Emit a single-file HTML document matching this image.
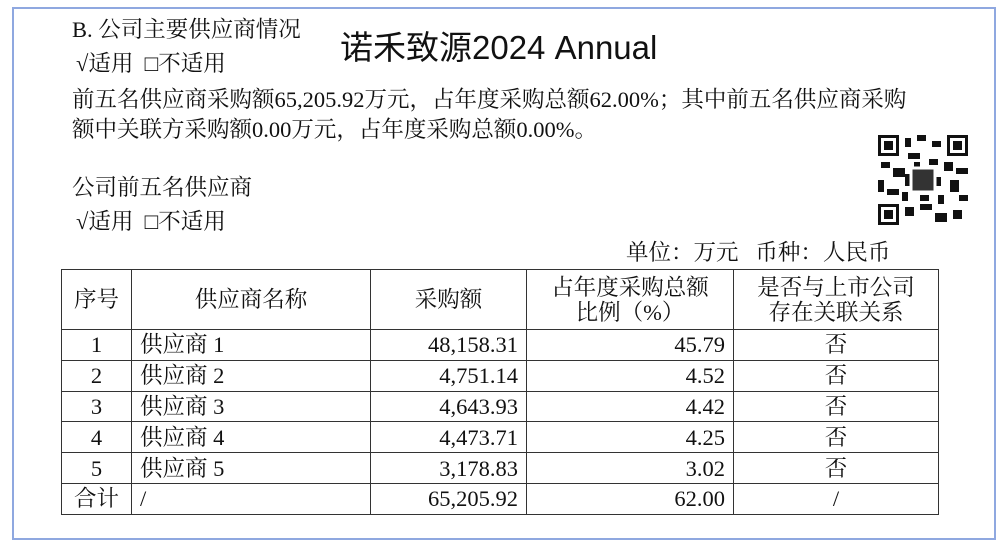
<!DOCTYPE html>
<html><head><meta charset="utf-8"><style>
body{margin:0;width:1000px;height:545px;background:#fff;position:relative;overflow:hidden;font-family:"Liberation Serif","Noto Serif CJK SC",serif;color:#111}
.frame{position:absolute;left:12px;top:7px;width:984px;height:533px;border:2px solid #8fa8e0;box-sizing:border-box}
.t{position:absolute;white-space:nowrap;font-size:22.5px;line-height:26px}
.big{position:absolute;left:340px;top:29px;font-family:"Liberation Sans","Noto Sans CJK SC",sans-serif;font-size:33px;line-height:38px;white-space:nowrap}
table{position:absolute;left:61px;top:269px;border-collapse:collapse;font-size:22.5px}
td{border:1.5px solid #333;padding:0 8px;height:29.8px;line-height:25px}
tr.h td{height:59px}
.c{text-align:center}.r{text-align:right}
.qr{position:absolute;left:878px;top:135px;width:90px;height:90px}
</style></head><body>
<div class="frame"></div>
<div class="t" style="left:72px;top:17px">B. 公司主要供应商情况</div>
<div class="big">诺禾致源2024 Annual</div>
<div class="t" style="left:76px;top:51px">√适用 &nbsp;□不适用</div>
<div class="t" style="left:72px;top:87px">前五名供应商采购额65,205.92万元，占年度采购总额62.00%；其中前五名供应商采购</div>
<div class="t" style="left:72px;top:117px">额中关联方采购额0.00万元，占年度采购总额0.00%。</div>
<div class="t" style="left:72px;top:175px">公司前五名供应商</div>
<div class="t" style="left:76px;top:209px">√适用 &nbsp;□不适用</div>
<div class="t" style="left:626px;top:240px">单位：万元 &nbsp;&nbsp;币种：人民币</div>
<svg class="qr" viewBox="0 0 30 30">
<rect width="30" height="30" fill="#fff"/>
<g fill="#111">
<rect x="0" y="0" width="7" height="7"/><rect x="23" y="0" width="7" height="7"/><rect x="0" y="23" width="7" height="7"/>
<rect x="9" y="1" width="2" height="3"/><rect x="13" y="0" width="3" height="2"/><rect x="18" y="2" width="3" height="2"/><rect x="10" y="6" width="4" height="2"/>
<rect x="1" y="9" width="3" height="2"/><rect x="5" y="11" width="4" height="3"/><rect x="0" y="15" width="2" height="4"/><rect x="3" y="18" width="4" height="2"/>
<rect x="22" y="9" width="3" height="3"/><rect x="26" y="11" width="4" height="2"/><rect x="24" y="15" width="3" height="4"/><rect x="27" y="20" width="3" height="2"/>
<rect x="9" y="24" width="3" height="3"/><rect x="14" y="23" width="4" height="2"/><rect x="19" y="26" width="4" height="3"/><rect x="25" y="25" width="3" height="3"/>
<rect x="12" y="9" width="2" height="2"/><rect x="17" y="8" width="3" height="2"/><rect x="8" y="19" width="2" height="3"/><rect x="20" y="20" width="2" height="3"/>
<rect x="9" y="13" width="2" height="4"/><rect x="19" y="14" width="2" height="3"/><rect x="14" y="20" width="3" height="2"/>
</g>
<g fill="none" stroke="#fff" stroke-width="1"><rect x="1.5" y="1.5" width="4" height="4"/><rect x="24.5" y="1.5" width="4" height="4"/><rect x="1.5" y="24.5" width="4" height="4"/></g>
<rect x="11" y="11" width="8" height="8" fill="#333" stroke="#fff"/>
</svg>
<table>
<tr class="h"><td class="c" style="width:53px">序号</td><td class="c" style="width:222px">供应商名称</td><td class="c" style="width:139px">采购额</td><td class="c" style="width:190px">占年度采购总额<br>比例（%）</td><td class="c" style="width:188px">是否与上市公司<br>存在关联关系</td></tr>
<tr><td class="c">1</td><td>供应商 1</td><td class="r">48,158.31</td><td class="r">45.79</td><td class="c">否</td></tr>
<tr><td class="c">2</td><td>供应商 2</td><td class="r">4,751.14</td><td class="r">4.52</td><td class="c">否</td></tr>
<tr><td class="c">3</td><td>供应商 3</td><td class="r">4,643.93</td><td class="r">4.42</td><td class="c">否</td></tr>
<tr><td class="c">4</td><td>供应商 4</td><td class="r">4,473.71</td><td class="r">4.25</td><td class="c">否</td></tr>
<tr><td class="c">5</td><td>供应商 5</td><td class="r">3,178.83</td><td class="r">3.02</td><td class="c">否</td></tr>
<tr><td class="c">合计</td><td>/</td><td class="r">65,205.92</td><td class="r">62.00</td><td class="c">/</td></tr>
</table>
</body></html>
